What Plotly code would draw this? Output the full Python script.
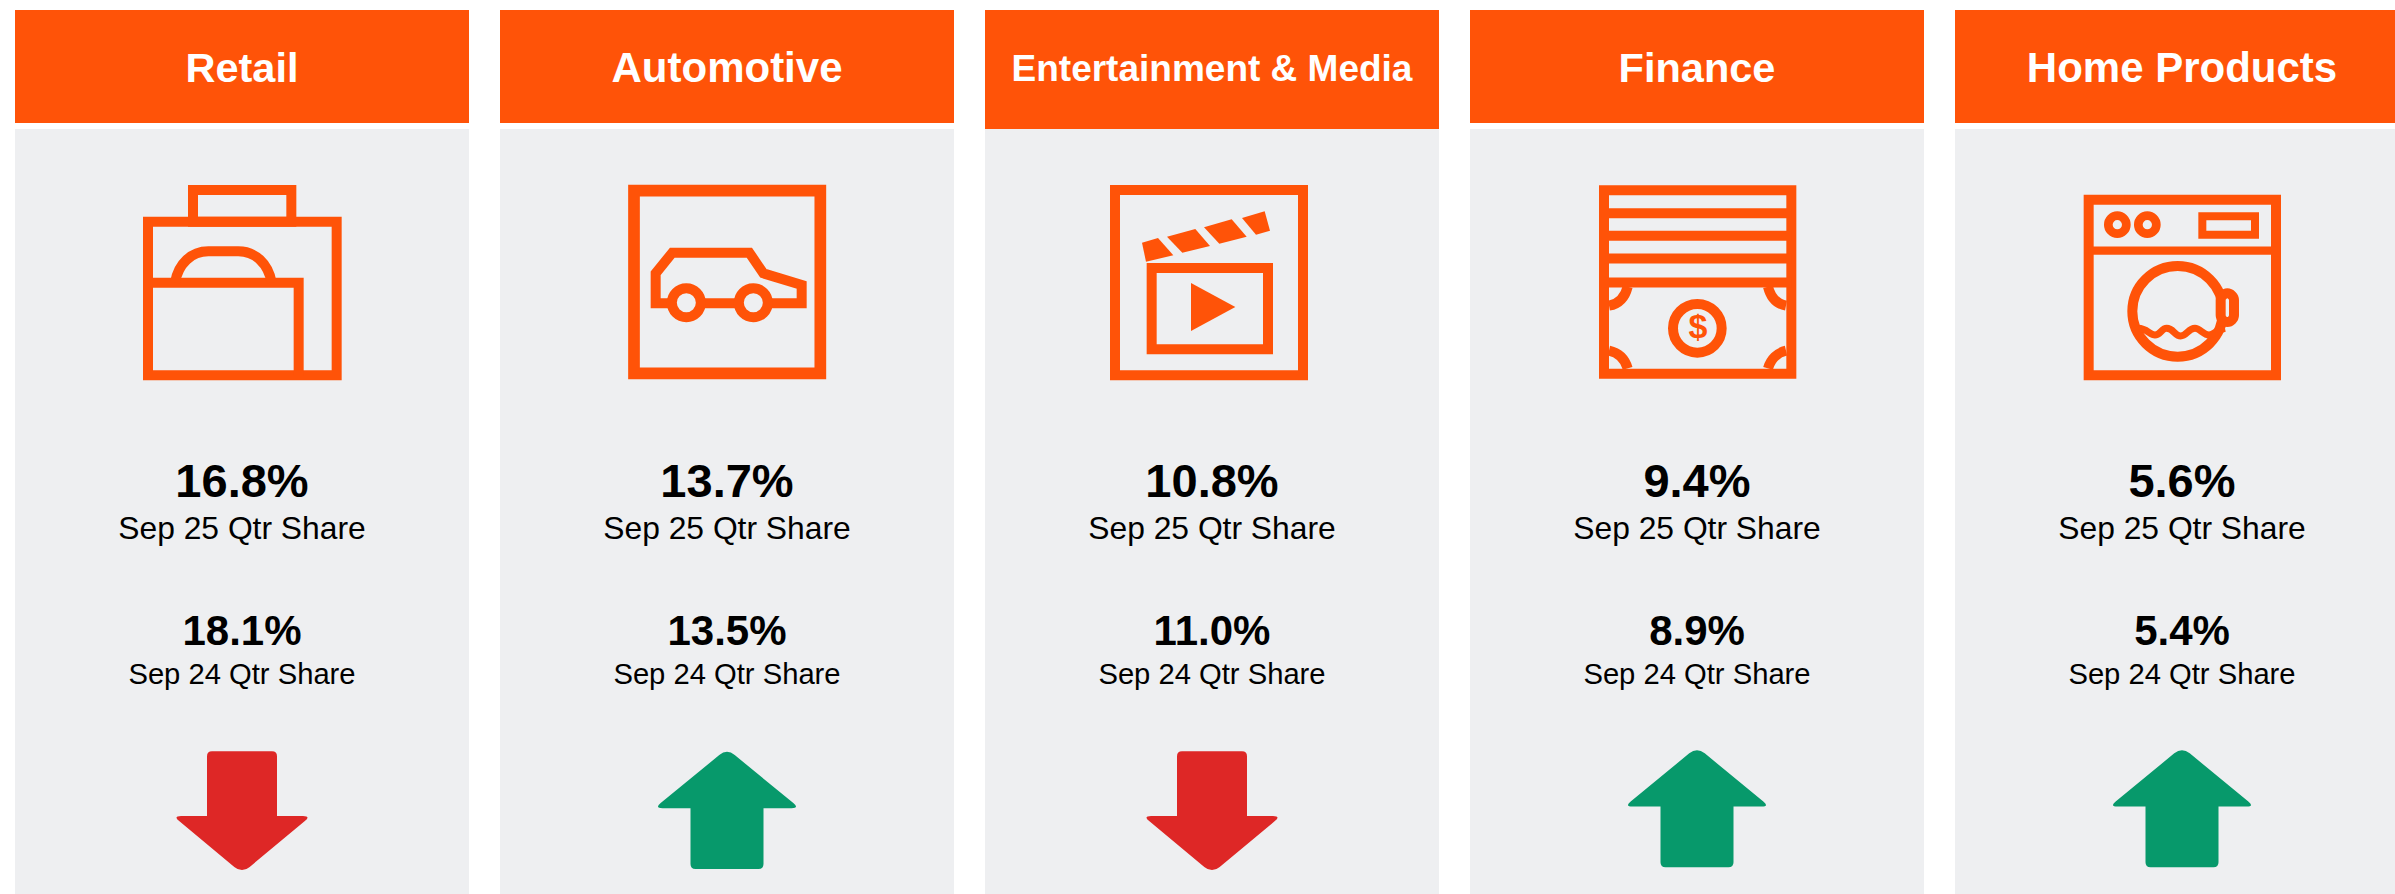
import re
import plotly.graph_objects as go

# ---- data ----
categories = ["Retail", "Automotive", "Entertainment & Media", "Finance", "Home Products"]
sep25_share = [16.8, 13.7, 10.8, 9.4, 5.6]
sep24_share = [18.1, 13.5, 11.0, 8.9, 5.4]
sep25_label = "Sep 25 Qtr Share"
sep24_label = "Sep 24 Qtr Share"

# ---- styling and layout ----
W, H = 2395, 894
ORANGE, GREY = "#FF5308", "#EEEFF1"
RED, GREEN = "#DE2726", "#07996B"
FONT = "Liberation Sans, Arial, sans-serif"
panel_left = [15, 500, 985, 1470, 1955]
panel_w = 454
header_bottom = [123, 123, 129, 123, 123]
header_size = [41.5, 42, 37, 41.5, 42]
arrow_top = [751.3, 751.7, 751.3, 750, 750]
centers = [l + panel_w / 2 for l in panel_left]


def circle(cx, cy, r):
    k = 0.5523 * r
    return (f"M{cx-r},{cy} C{cx-r},{cy-k} {cx-k},{cy-r} {cx},{cy-r} "
            f"C{cx+k},{cy-r} {cx+r},{cy-k} {cx+r},{cy} "
            f"C{cx+r},{cy+k} {cx+k},{cy+r} {cx},{cy+r} "
            f"C{cx-k},{cy+r} {cx-r},{cy+k} {cx-r},{cy} Z")


def box(x0, y0, x1, y1):
    return f"M{x0},{y0} L{x1},{y0} L{x1},{y1} L{x0},{y1} Z"


def poly(*pts):
    return "M" + " L".join(f"{x},{y}" for x, y in pts) + " Z"


# icon drawings: (path, stroke width in px or None for filled, fill), in 3x units of a 480px column
icons = [
    [  # bag
        (box(579, 570, 874, 665), 10),
        (box(444, 665, 1010, 1126), 10),
        ("M444,848 L896,848 L896,1126", 10),
        ("M525,848 C535,790 575,754 625,754 L715,754 C765,754 805,790 815,848", 10),
    ],
    [  # car
        (box(462, 572, 1021, 1120), 11.7),
        ("M575,910 L527,910 L527,820 L577,758 L808,758 L850,820 L965,855 L965,910 L870,910", 10),
        ("M670,910 L770,910", 10),
        (circle(619, 908, 43.5), 10),
        (circle(820, 908, 43.5), 10),
    ],
    [  # clapper
        (box(465, 570, 1029, 1126), 10),
        (poly((546, 728), (594, 714), (640, 766), (558, 785)), None),
        (poly((621, 710), (706, 687), (750, 738), (667, 758)), None),
        (poly((732, 682), (815, 658), (860, 710), (778, 731)), None),
        (poly((846, 654), (914, 634), (930, 692), (888, 704)), None),
        (box(575, 804, 924, 1048), 10),
        (poly((693, 849), (826, 921), (693, 993)), None),
    ],
    [  # cash drawer
        (box(492, 571, 1054, 1121), 10),
        ("M492,640 L1054,640", 10),
        ("M492,707.5 L1054,707.5", 10),
        ("M492,775.5 L1054,775.5", 10),
        ("M492,847.5 L1054,847.5", 10),
        ("M563,860 C555,892 535,912 507,917", 10),
        ("M984,860 C992,892 1012,912 1038,917", 10),
        ("M507,1052 C535,1058 555,1078 563,1105", 10),
        ("M984,1105 C992,1078 1012,1058 1038,1052", 10),
        (circle(772, 985, 73), 10),
    ],
    [  # washing machine
        (box(506, 599, 1068, 1126), 10),
        ("M506,752 L1068,752", 8.3),
        (circle(592, 674, 27), 8.7),
        (circle(682, 674, 27), 8.7),
        (box(847, 649, 1005, 704), 8),
        (circle(773, 934, 136), 10),
        ("M655,985 C680,985 690,1005 705,1005 C720,1005 725,985 740,985 "
         "C760,985 765,1008 782,1008 C800,1008 805,985 825,985 "
         "C840,985 850,1005 867,1005 C880,1005 890,990 915,985", 7),
        ("M922,880 C932,880 942,890 942,900 L942,946 C942,956 932,966 922,966 "
         "C912,966 902,956 902,946 L902,900 C902,890 912,880 922,880 Z", 10, GREY),
    ],
]


def place(path, col):
    """Convert a path in 3x column units to chart coordinates."""
    off = 480 * col
    i = 0

    def repl(m):
        nonlocal i
        v = float(m.group())
        r = off + v / 3 if i % 2 == 0 else v / 3
        i += 1
        return f"{r:.2f}"

    return re.sub(r"-?\d+(?:\.\d+)?", repl, path)


def rounded(pts, radii):
    n = len(pts)
    d = ""
    for k in range(n):
        x, y = pts[k]
        x0, y0 = pts[k - 1]
        x1, y1 = pts[(k + 1) % n]
        r = radii[k]
        l0 = ((x - x0) ** 2 + (y - y0) ** 2) ** 0.5
        l1 = ((x - x1) ** 2 + (y - y1) ** 2) ** 0.5
        ax, ay = x + (x0 - x) * r / l0, y + (y0 - y) * r / l0
        bx, by = x + (x1 - x) * r / l1, y + (y1 - y) * r / l1
        d += f"{'M' if k == 0 else 'L'}{ax:.2f},{ay:.2f} Q{x:.2f},{y:.2f} {bx:.2f},{by:.2f} "
    return d + "Z"


def arrow(cx, top, up):
    if up:
        hw, sw, h, b = 72.5, 36.5, 117.3, 56.5
        pts = [(cx, top - 3), (cx + hw, top + b), (cx + sw, top + b), (cx + sw, top + h),
               (cx - sw, top + h), (cx - sw, top + b), (cx - hw, top + b)]
        radii = [10, 8, 0.01, 5, 5, 0.01, 8]
    else:
        hw, sw, h, b = 69, 35, 119, 64.7
        pts = [(cx - sw, top), (cx + sw, top), (cx + sw, top + b), (cx + hw, top + b),
               (cx, top + h + 3), (cx - hw, top + b), (cx - sw, top + b)]
        radii = [5, 5, 0.01, 8, 10, 8, 0.01]
    return rounded(pts, radii)


shapes = []
for i, left in enumerate(panel_left):
    right = left + panel_w
    shapes.append(dict(type="rect", x0=left, x1=right, y0=129, y1=H, fillcolor=GREY, line_width=0, layer="below"))
    shapes.append(dict(type="rect", x0=left, x1=right, y0=10, y1=header_bottom[i], fillcolor=ORANGE, line_width=0, layer="below"))
    for item in icons[i]:
        path, sw = item[0], item[1]
        fill = item[2] if len(item) > 2 else "rgba(0,0,0,0)"
        if sw is None:
            shapes.append(dict(type="path", path=place(path, i), fillcolor=ORANGE, line_width=0, layer="below"))
        else:
            shapes.append(dict(type="path", path=place(path, i), line=dict(color=ORANGE, width=sw),
                               fillcolor=fill, layer="below"))
    up = sep25_share[i] > sep24_share[i]
    shapes.append(dict(type="path", path=arrow(centers[i], arrow_top[i], up),
                       fillcolor=GREEN if up else RED, line_width=0, layer="below"))


def text_trace(y, labels, size, color="black", bold=False, xs=centers):
    return go.Scatter(
        x=xs, y=[y] * len(labels), text=[f"<b>{t}</b>" if bold else t for t in labels],
        mode="text", textposition="middle center",
        textfont=dict(family=FONT, size=size, color=color),
        hoverinfo="skip", showlegend=False, cliponaxis=False,
    )


fig = go.Figure()
for i, c in enumerate(categories):
    fig.add_trace(text_trace(71.5, [c], header_size[i], "white", True, [centers[i]]))
fig.add_trace(text_trace(485, [f"{v:.1f}%" for v in sep25_share], 47, bold=True))
fig.add_trace(text_trace(531, [sep25_label] * 5, 31.8))
fig.add_trace(text_trace(634.5, [f"{v:.1f}%" for v in sep24_share], 42, bold=True))
fig.add_trace(text_trace(677, [sep24_label] * 5, 29.2))
fig.add_trace(text_trace(329, ["$"], 34, ORANGE, True, [1698]))

fig.update_layout(
    width=W, height=H, margin=dict(l=0, r=0, t=0, b=0, pad=0),
    paper_bgcolor="white", plot_bgcolor="white", shapes=shapes, showlegend=False,
    xaxis=dict(range=[0, W], visible=False, fixedrange=True),
    yaxis=dict(range=[H, 0], visible=False, fixedrange=True),
)
fig.write_html("out.html", config=dict(displayModeBar=False),
               post_script="document.body.style.margin='0';document.body.style.overflow='hidden';")
